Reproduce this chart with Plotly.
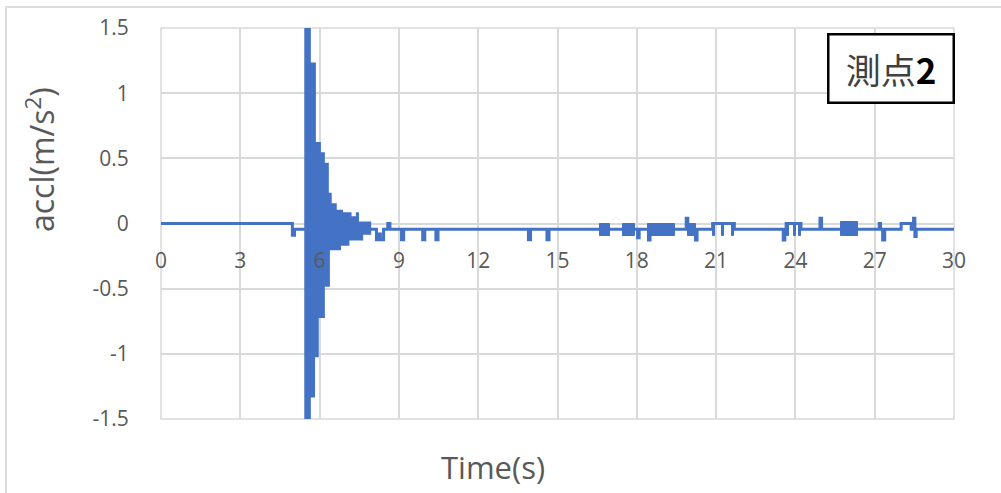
import plotly.graph_objects as go

BLUE = "#4472C4"
GRID = "#d9d9d9"
TXT = "#595959"
FONT = "Open Sans"

# ---- data ----
# baseline signal (step line, value holds until next time)
base_t = [0.00, 4.97, 5.05, 8.15, 8.22, 8.30, 8.42, 8.58, 8.66, 9.10, 9.18, 9.90, 9.98,
          10.40, 10.48, 13.90, 13.98, 14.60, 14.68, 18.03, 18.09, 18.44, 18.50, 19.87,
          19.93, 20.22, 20.28, 20.87, 21.69, 23.54, 23.60, 23.65, 24.21, 24.93, 24.99,
          27.17, 27.22, 27.30, 27.38, 28.00, 28.38, 28.47, 28.52, 28.57, 30.00]
base_v = [0.0, -0.09, -0.045, -0.125, -0.08, -0.125, -0.045, 0.0, -0.045, -0.125, -0.045,
          -0.125, -0.045, -0.125, -0.045, -0.125, -0.045, -0.125, -0.045, -0.11, -0.045,
          -0.127, -0.045, 0.04, -0.045, -0.127, -0.045, 0.0, -0.045, -0.127, -0.045, 0.0,
          -0.045, 0.04, -0.045, 0.0, -0.045, -0.127, -0.045, 0.0, -0.045, 0.04, -0.10,
          -0.045, -0.045]

# envelope of the main vibration burst
burst_up_t = [5.42, 5.64, 5.83, 6.02, 6.17, 6.32, 6.43, 6.62, 6.86, 7.18, 7.40, 7.46, 7.95]
burst_up_v = [1.6, 1.23, 0.62, 0.54, 0.46, 0.23, 0.15, 0.10, 0.08, 0.05, 0.08, 0.01, 0.01]
burst_lo_t = [5.42, 5.64, 5.80, 5.94, 6.17, 6.36, 6.78, 7.10, 7.45, 7.62, 7.95]
burst_lo_v = [-1.6, -1.33, -1.02, -0.72, -0.48, -0.20, -0.165, -0.125, -0.125, -0.08, -0.08]

# short dense oscillation blocks later in the record
block_start = [16.62, 17.47, 18.44, 19.93, 20.87, 21.23, 21.59, 23.65, 23.93, 24.12, 25.73]
block_end   = [16.98, 17.94, 19.45, 20.25, 20.97, 21.31, 21.69, 23.75, 24.01, 24.21, 26.36]
block_hi    = [0.0, 0.0, 0.0, 0.0, 0.0, 0.0, 0.0, 0.0, 0.0, 0.0, 0.015]
block_lo    = [-0.095, -0.095, -0.095, -0.095, -0.095, -0.095, -0.095, -0.095, -0.095, -0.095, -0.095]

x_ticks = [0, 3, 6, 9, 12, 15, 18, 21, 24, 27, 30]
x_tick_labels = ["0", "3", "6", "9", "12", "15", "18", "21", "24", "27", "30"]
y_ticks = [-1.5, -1.0, -0.5, 0.0, 0.5, 1.0, 1.5]
y_tick_labels = ["-1.5", "-1", "-0.5", "0", "0.5", "1", "1.5"]

x_title = "Time(s)"
y_title = "accl(m/s<sup>2</sup>)"
box_label = '測点<span style="color:#000000"><b>2</b></span>'

# ---- figure ----
W, H = 1001, 493
L, R, T, B = 161, 954, 28, 419
pw, ph = R - L, B - T


def px(x):
    return (x - L) / pw


def py(y):
    return (B - y) / ph


fig = go.Figure()

fig.add_trace(go.Scatter(x=base_t, y=base_v, mode="lines",
                         line=dict(color=BLUE, width=3, shape="hv"),
                         hoverinfo="skip", showlegend=False))

fig.add_trace(go.Scatter(x=burst_up_t, y=burst_up_v, mode="lines",
                         line=dict(color=BLUE, width=1.5, shape="hv"),
                         hoverinfo="skip", showlegend=False))
fig.add_trace(go.Scatter(x=burst_lo_t, y=burst_lo_v, mode="lines",
                         line=dict(color=BLUE, width=1.5, shape="hv"),
                         fill="tonexty", fillcolor=BLUE,
                         hoverinfo="skip", showlegend=False))

fig.add_trace(go.Bar(
    x=[(s + e) / 2 for s, e in zip(block_start, block_end)],
    width=[e - s for s, e in zip(block_start, block_end)],
    base=block_lo,
    y=[h - l for h, l in zip(block_hi, block_lo)],
    marker=dict(color=BLUE, line=dict(color=BLUE, width=1)),
    hoverinfo="skip", showlegend=False))

fig.update_layout(
    width=W, height=H,
    margin=dict(l=L, r=W - R, t=T, b=H - B),
    paper_bgcolor="white", plot_bgcolor="white",
    barmode="overlay", bargap=0,
    showlegend=False,
    font=dict(family=FONT, color=TXT),
    xaxis=dict(range=[0, 30], tickmode="array", tickvals=x_ticks, ticktext=x_tick_labels,
               anchor="free", position=0.5, showline=False, zeroline=False,
               showgrid=True, gridcolor=GRID, gridwidth=1.5,
               ticks="outside", ticklen=18, tickcolor="rgba(0,0,0,0)",
               tickfont=dict(size=21, color=TXT, family=FONT)),
    yaxis=dict(range=[-1.5, 1.5], tickmode="array", tickvals=y_ticks, ticktext=y_tick_labels,
               showline=False, zeroline=False, showgrid=True, gridcolor=GRID, gridwidth=1.5,
               ticks="outside", ticklen=27, tickcolor="rgba(0,0,0,0)",
               tickfont=dict(size=21, color=TXT, family=FONT)),
    shapes=[
        dict(type="rect", xref="paper", yref="paper", x0=0, x1=1, y0=0, y1=1,
             line=dict(color=GRID, width=1.5), layer="below"),
        dict(type="rect", xref="paper", yref="paper", x0=px(6), x1=px(1020),
             y0=py(520), y1=py(7), line=dict(color="#dcdcdc", width=2), layer="below"),
    ],
    annotations=[
        dict(text=x_title, xref="paper", yref="paper", x=px(493), y=py(467),
             xanchor="center", yanchor="middle", showarrow=False,
             font=dict(size=31, color=TXT, family=FONT)),
        dict(text=y_title, xref="paper", yref="paper", x=px(40), y=py(160),
             xanchor="center", yanchor="middle", showarrow=False, textangle=-90,
             font=dict(size=32, color=TXT, family=FONT)),
        dict(text=box_label, xref="paper", yref="paper", x=px(890.5), y=py(68.5),
             xanchor="center", yanchor="middle", showarrow=False,
             width=123, height=66, borderpad=0, borderwidth=2.5, bordercolor="#000000",
             bgcolor="white",
             font=dict(size=35, color="#404040", family="Noto Sans CJK JP")),
    ],
)

fig.write_html("out.html")
